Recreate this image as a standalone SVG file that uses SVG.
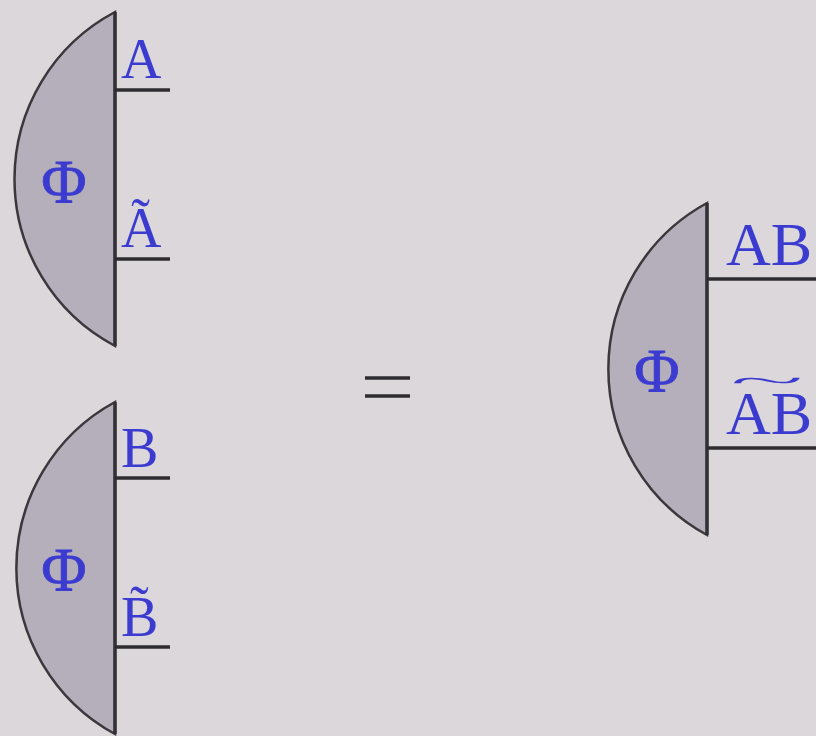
<svg xmlns="http://www.w3.org/2000/svg" width="816" height="736" viewBox="0 0 816 736">
<style>
.body{fill:#b4afba;stroke:#3a383c;stroke-width:2.5}
.spine{stroke:#333036;stroke-width:3.5;fill:none}
.leg{stroke:#2e2c30;stroke-width:3.5}
.lbl{font-family:"Liberation Serif",serif;fill:#3b3bd0}
.phi{font-family:"Liberation Serif",serif;fill:#3b3bd0;text-anchor:middle;stroke:#3b3bd0;stroke-width:0.8}
</style>
<rect width="816" height="736" fill="#dbd7da"/>
<g id="nodeA">
<path class="body" d="M115,12 A189,189 0 0 0 115,346 Z"/>
<line class="spine" x1="115" y1="12" x2="115" y2="346"/>
<line class="leg" x1="115" y1="90" x2="170" y2="90"/>
<line class="leg" x1="115" y1="259" x2="170" y2="259"/>
<text class="phi" x="64" y="202" font-size="62">Φ</text>
<text class="lbl" x="121" y="78" font-size="56">A</text>
<text class="lbl" x="121" y="247" font-size="56">Ã</text>
</g>
<g id="nodeB">
<path class="body" d="M115,402 A189,189 0 0 0 115,734 Z"/>
<line class="spine" x1="115" y1="402" x2="115" y2="734"/>
<line class="leg" x1="115" y1="478" x2="170" y2="478"/>
<line class="leg" x1="115" y1="647" x2="170" y2="647"/>
<text class="phi" x="64" y="590" font-size="62">Φ</text>
<text class="lbl" x="121" y="467" font-size="56">B</text>
<text class="lbl" x="121" y="636" font-size="56">B̃</text>
</g>
<g id="equals">
<line class="leg" x1="365" y1="378" x2="410" y2="378"/>
<line class="leg" x1="365" y1="396" x2="410" y2="396"/>
</g>
<g id="nodeAB">
<path class="body" d="M707,203 A189,189 0 0 0 707,535 Z"/>
<line class="spine" x1="707" y1="203" x2="707" y2="535"/>
<line class="leg" x1="707" y1="279" x2="816" y2="279"/>
<line class="leg" x1="707" y1="448" x2="816" y2="448"/>
<text class="phi" x="657" y="391" font-size="62">Φ</text>
<text class="lbl" x="726" y="265" font-size="62">AB</text>
<text class="lbl" x="726" y="434" font-size="62">AB</text>
<text class="lbl" font-size="40" text-anchor="middle" transform="translate(767,391) scale(3.4,0.75)">~</text>
</g>
</svg>
